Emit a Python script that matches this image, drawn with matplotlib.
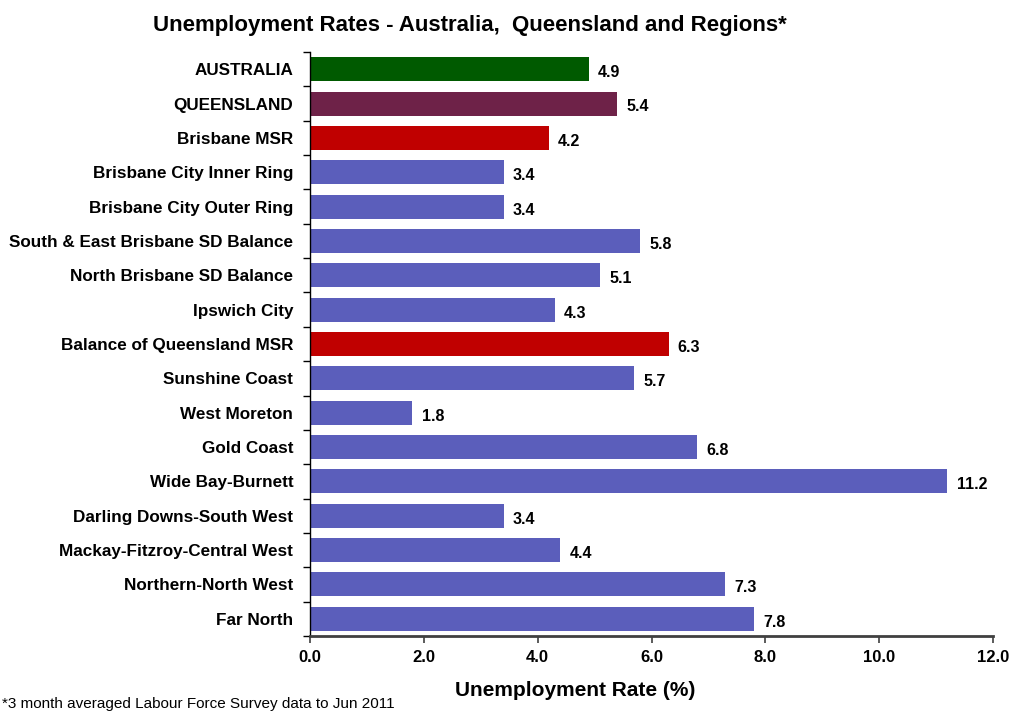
import matplotlib
matplotlib.use("Agg")
import matplotlib.pyplot as plt

regions = ["AUSTRALIA", "QUEENSLAND", "Brisbane MSR", "Brisbane City Inner Ring",
           "Brisbane City Outer Ring", "South & East Brisbane SD Balance",
           "North Brisbane SD Balance", "Ipswich City", "Balance of Queensland MSR",
           "Sunshine Coast", "West Moreton", "Gold Coast", "Wide Bay-Burnett",
           "Darling Downs-South West", "Mackay-Fitzroy-Central West",
           "Northern-North West", "Far North"]
rates = [4.9, 5.4, 4.2, 3.4, 3.4, 5.8, 5.1, 4.3, 6.3, 5.7, 1.8, 6.8, 11.2, 3.4, 4.4, 7.3, 7.8]
kinds = ["nation", "state", "msr", "sub", "sub", "sub", "sub", "sub", "msr",
         "sub", "sub", "sub", "sub", "sub", "sub", "sub", "sub"]
palette = {"nation": "#005A00", "state": "#6E2248", "msr": "#C00000", "sub": "#5B5EBB"}

plt.rcParams['font.family'] = ['Liberation Sans', 'DejaVu Sans']

fig = plt.figure(figsize=(10.13, 7.13), dpi=100)
ax = fig.add_axes([310 / 1013, 1 - 636 / 713, 683 / 1013, 584 / 713])

ypos = list(range(len(regions)))
ax.barh(ypos, rates, height=0.7, color=[palette[k] for k in kinds])
for y, v in zip(ypos, rates):
    ax.text(v + 0.16, y + 0.1, f"{v:.1f}", va="center", ha="left", fontsize=11.5, fontweight="bold")

ax.set_xlim(0, 12)
ax.set_ylim(len(regions) - 0.5, -0.5)
ax.set_xticks([0, 2, 4, 6, 8, 10, 12])
ax.set_xticklabels([f"{t:.1f}" for t in [0, 2, 4, 6, 8, 10, 12]], fontsize=12, fontweight="bold")
ax.set_yticks(ypos)
ax.set_yticklabels(regions, fontsize=12.3, fontweight="bold")
ax.tick_params(axis="y", length=0, pad=12)
ax.tick_params(axis="x", length=5, width=1.2, color="#404040", pad=5)
# category separators on the y axis
ax.set_yticks([y + 0.5 for y in [-1] + ypos], minor=True)
ax.tick_params(axis="y", which="minor", length=5, width=1, color="black")

for s in ["top", "right"]:
    ax.spines[s].set_visible(False)
ax.spines["bottom"].set_color("#404040")
ax.spines["bottom"].set_linewidth(2)
ax.spines["left"].set_color("black")
ax.spines["left"].set_linewidth(1)

fig.text(470 / 1013, 1 - 25 / 713, "Unemployment Rates - Australia,  Queensland and Regions*",
         ha="center", va="center", fontsize=16, fontweight="bold")
fig.text(575 / 1013, 1 - 690 / 713, "Unemployment Rate (%)",
         ha="center", va="center", fontsize=15, fontweight="bold")
fig.text(2 / 1013, 1 - 708 / 713, "*3 month averaged Labour Force Survey data to Jun 2011",
         ha="left", va="baseline", fontsize=11)

fig.savefig("out.png", dpi=100)
